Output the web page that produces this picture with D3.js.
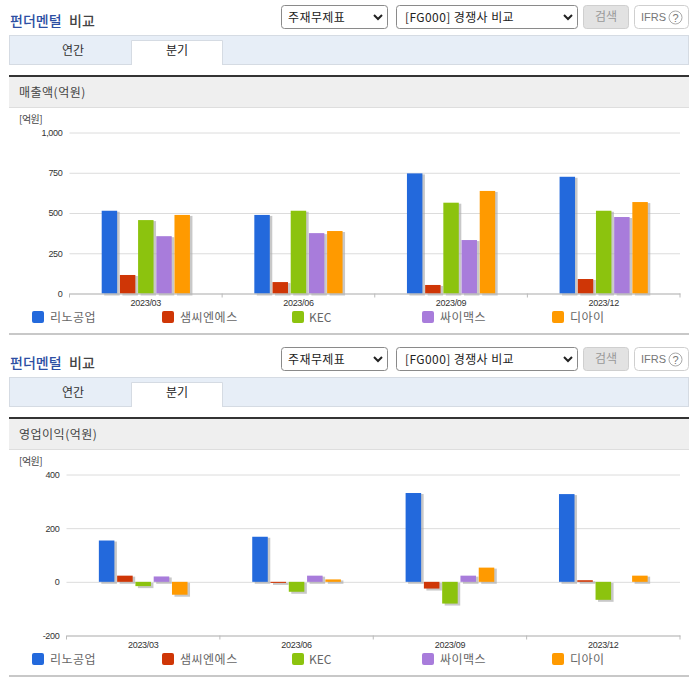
<!DOCTYPE html>
<html>
<head>
<meta charset="utf-8">
<script src="https://cdn.jsdelivr.net/npm/d3@7"></script>
<style>
html, body { margin: 0; padding: 0; background: #fff; overflow: hidden; }
svg { display: block; }
text { font-family: "Noto Sans CJK KR", sans-serif; }
.num text, text.num { font-family: "Liberation Sans", Arial, sans-serif; }
</style>
</head>
<body>
<svg id="page" width="696" height="684"></svg>
<script>
var periods = ["2023/03", "2023/06", "2023/09", "2023/12"];
var companies = ["리노공업", "샘씨엔에스", "KEC", "싸이맥스", "디아이"];
var colors = ["#2369dc", "#cf3606", "#8cc30e", "#a87cdb", "#ff9a00"];

// 매출액
var salesLino = [514, 488, 746, 725];
var salesSam = [115, 71, 53, 90];
var salesKec = [456, 514, 564, 514];
var salesCymax = [356, 375, 332, 475];
var salesDi = [488, 388, 637, 568];
var salesTicks = [0, 250, 500, 750, 1000];

// 영업이익
var profitLino = [154, 168, 331, 327];
var profitSam = [23, -4, -25, 6];
var profitKec = [-16, -37, -81, -67];
var profitCymax = [20, 23, 23, 0];
var profitDi = [-48, 9, 53, 23];
var profitTicks = [-200, 0, 200, 400];

var svg = d3.select("#page");
// plain hyphen on negative labels
var tickFormat = d3.formatLocale({ decimal: ".", thousands: ",", grouping: [3], currency: ["", ""], minus: "-" }).format(",");

function drawToolbar(g) {
    g.append("text").attr("x", 10).attr("y", 26).attr("font-size", 14).attr("font-weight", 500)
        .attr("fill", "#2d4fa3").text("펀더멘털");
    g.append("text").attr("x", 69).attr("y", 26).attr("font-size", 14).attr("font-weight", 500)
        .attr("fill", "#444").text("비교");

    // selects
    var boxes = [[281, 106, "주재무제표", 288], [396, 181, "[FG000] 경쟁사 비교", 405]];
    boxes.forEach(function (b) {
        g.append("rect").attr("x", b[0] + 0.5).attr("y", 5.5).attr("width", b[1]).attr("height", 23).attr("rx", 3)
            .attr("fill", "#fff").attr("stroke", "#8a8a8a");
        g.append("text").attr("x", b[3]).attr("y", 22).attr("font-size", 12).attr("letter-spacing", 0.4)
            .attr("fill", "#222").text(b[2]);
        var cx = b[0] + b[1] - 9;
        g.append("path").attr("d", "M" + (cx - 4) + ",15 L" + cx + ",19 L" + (cx + 4) + ",15")
            .attr("fill", "none").attr("stroke", "#222").attr("stroke-width", 2);
    });

    g.append("rect").attr("x", 583.5).attr("y", 5.5).attr("width", 45).attr("height", 23).attr("rx", 3)
        .attr("fill", "#e2e2e2").attr("stroke", "#cfcfcf");
    g.append("text").attr("x", 606).attr("y", 21).attr("text-anchor", "middle").attr("font-size", 12)
        .attr("fill", "#999").text("검색");

    g.append("rect").attr("x", 634.5).attr("y", 5.5).attr("width", 54).attr("height", 23).attr("rx", 4)
        .attr("fill", "#fff").attr("stroke", "#cfcfcf");
    g.append("text").attr("class", "num").attr("x", 641).attr("y", 21).attr("font-size", 11)
        .attr("fill", "#777").text("IFRS");
    g.append("circle").attr("cx", 675.5).attr("cy", 17.5).attr("r", 6.5)
        .attr("fill", "#fff").attr("stroke", "#aaa");
    g.append("text").attr("class", "num").attr("x", 675.5).attr("y", 21.5).attr("text-anchor", "middle")
        .attr("font-size", 11).attr("fill", "#777").text("?");

    // tabs
    g.append("rect").attr("x", 9.5).attr("y", 35.5).attr("width", 679).attr("height", 29)
        .attr("fill", "#e7eef7").attr("stroke", "#d5dbe3");
    g.append("path").attr("d", "M131.5,65 V40.5 H222.5 V65").attr("fill", "#fff").attr("stroke", "#d5dbe3");
    g.append("text").attr("x", 73).attr("y", 55).attr("text-anchor", "middle").attr("font-size", 12)
        .attr("fill", "#333").text("연간");
    g.append("text").attr("x", 177).attr("y", 55).attr("text-anchor", "middle").attr("font-size", 12)
        .attr("fill", "#222").text("분기");
}

function drawPanel(top, title, series, ticks, domain, yRange, xRange) {
    var g = svg.append("g").attr("transform", "translate(0," + top + ")");
    drawToolbar(g);

    g.append("rect").attr("x", 9).attr("y", 77).attr("width", 680).attr("height", 30).attr("fill", "#efefef");
    g.append("rect").attr("x", 9).attr("y", 75).attr("width", 680).attr("height", 2).attr("fill", "#333");
    g.append("rect").attr("x", 9).attr("y", 107).attr("width", 680).attr("height", 1).attr("fill", "#dedede");
    g.append("text").attr("x", 19).attr("y", 97).attr("font-size", 12).attr("letter-spacing", 0.5)
        .attr("fill", "#444").text(title);
    g.append("text").attr("x", 19).attr("y", 123).attr("font-size", 10).attr("letter-spacing", -0.5)
        .attr("fill", "#444").text("[억원]");

    var y = d3.scaleLinear().domain(domain).range(yRange);
    var x = d3.scaleBand().domain(periods).range(xRange);
    var inner = d3.scaleBand().domain(companies).range([0, x.bandwidth()]).paddingInner(0.15).paddingOuter(1.77);

    // gridlines and value labels
    var yAxis = g.append("g").attr("class", "num").attr("transform", "translate(" + xRange[0] + ",0)")
        .call(d3.axisLeft(y).tickValues(ticks).tickSize(-(xRange[1] - xRange[0])).tickPadding(7).tickFormat(tickFormat));
    yAxis.select(".domain").remove();
    yAxis.selectAll("line").attr("stroke", "#dcdcdc");
    yAxis.selectAll("text").attr("font-size", 9).attr("letter-spacing", -0.3).attr("fill", "#333");

    // bars, a gray copy underneath for the shadow
    series.forEach(function (values, i) {
        var name = companies[i];
        var rows = periods.map(function (p, k) { return { period: p, value: values[k] }; })
            .filter(function (d) { return d.value !== 0; });
        g.append("g").selectAll("rect").data(rows).join("rect")
            .attr("x", function (d) { return x(d.period) + inner(name) + 2.5; })
            .attr("y", function (d) { return Math.min(y(d.value), y(0)) + 1; })
            .attr("width", inner.bandwidth())
            .attr("height", function (d) { return Math.abs(y(d.value) - y(0)) + 1; })
            .attr("fill", "#aaa").attr("opacity", 0.65);
        g.append("g").selectAll("rect").data(rows).join("rect")
            .attr("x", function (d) { return x(d.period) + inner(name); })
            .attr("y", function (d) { return Math.min(y(d.value), y(0)); })
            .attr("width", inner.bandwidth())
            .attr("height", function (d) { return Math.abs(y(d.value) - y(0)); })
            .attr("fill", colors[i]);
    });

    // bottom axis: labels in the band centers, ticks on the band edges
    var bottom = yRange[0];
    var xAxis = g.append("g").attr("class", "num").attr("transform", "translate(0," + bottom + ")")
        .call(d3.axisBottom(x).tickSize(0).tickPadding(6));
    xAxis.select(".domain").attr("stroke", "#bbb");
    xAxis.selectAll("text").attr("font-size", 9).attr("letter-spacing", -0.3).attr("fill", "#333");
    g.append("g").selectAll("line").data(periods.concat(["end"])).join("line")
        .attr("x1", function (d) { return d == "end" ? xRange[1] : x(d); })
        .attr("x2", function (d) { return d == "end" ? xRange[1] : x(d); })
        .attr("y1", bottom).attr("y2", bottom + 4)
        .attr("stroke", "#bbb");

    // legend
    var legend = d3.scaleBand().domain(companies).range([32, 682]);
    var items = g.append("g").selectAll("g").data(companies).join("g")
        .attr("transform", function (d) { return "translate(" + legend(d) + ",311)"; });
    items.append("rect").attr("width", 12).attr("height", 12).attr("rx", 2)
        .attr("fill", function (d, i) { return colors[i]; });
    items.append("text").attr("x", function (d) { return d == "KEC" ? 17 : 18; }).attr("y", 11).attr("font-size", 12)
        .attr("letter-spacing", function (d) { return d == "KEC" ? 0 : 0.5; }).attr("fill", "#666").text(function (d) { return d; });

    g.append("rect").attr("x", 9).attr("y", 333).attr("width", 680).attr("height", 2).attr("fill", "#c8c8c8");
}

drawPanel(0, "매출액(억원)", [salesLino, salesSam, salesKec, salesCymax, salesDi],
    salesTicks, [0, 1000], [293.5, 132.5], [69.5, 680]);
drawPanel(342, "영업이익(억원)", [profitLino, profitSam, profitKec, profitCymax, profitDi],
    profitTicks, [-200, 400], [293.5, 132.5], [66.5, 680]);
</script>
</body>
</html>
